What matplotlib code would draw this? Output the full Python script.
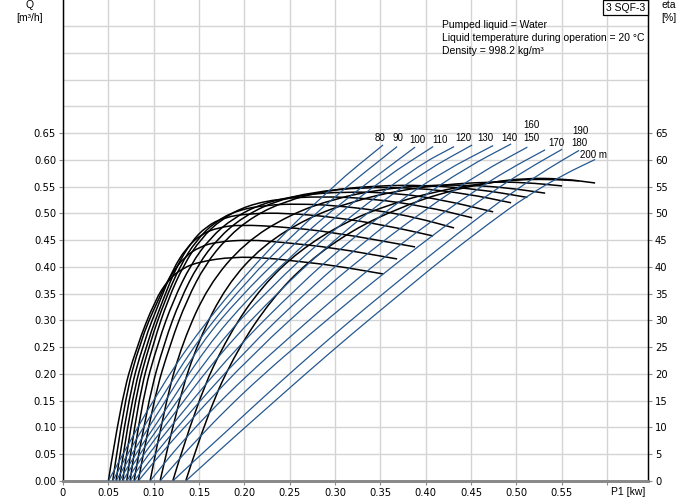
import matplotlib
matplotlib.use("Agg")
import matplotlib.pyplot as plt
from matplotlib.path import Path
from matplotlib.patches import PathPatch, Rectangle

plt.rcParams["font.family"] = ["Liberation Sans", "DejaVu Sans"]

# ---- data ----
heads = [80, 90, 100, 110, 120, 130, 140, 150, 160, 170, 180, 190, 200]

# Q lines (blue): P1 [kW] and Q [m3/h]
blue_p1 = [
    [0.0500, 0.0640, 0.1015, 0.1510, 0.2250, 0.2978, 0.3529],
    [0.0548, 0.0676, 0.1044, 0.1510, 0.2062, 0.2426, 0.2978, 0.3684],
    [0.0585, 0.0714, 0.1070, 0.1530, 0.1952, 0.2426, 0.2978, 0.3882],
    [0.0621, 0.0750, 0.1100, 0.1580, 0.2062, 0.2450, 0.3000, 0.3550, 0.4081],
    [0.0658, 0.0786, 0.1125, 0.1680, 0.2250, 0.3000, 0.3900, 0.4312],
    [0.0703, 0.0824, 0.1155, 0.1750, 0.2400, 0.2850, 0.3400, 0.4000, 0.4511],
    [0.0739, 0.0868, 0.1217, 0.1880, 0.2600, 0.3100, 0.3700, 0.4200, 0.4743],
    [0.0783, 0.0937, 0.1290, 0.1980, 0.2750, 0.3300, 0.3900, 0.4450, 0.4941],
    [0.0830, 0.0993, 0.1364, 0.2100, 0.2900, 0.3450, 0.4000, 0.4600, 0.5120],
    [0.0960, 0.1130, 0.1320, 0.1600, 0.2000, 0.2500, 0.3000, 0.3500, 0.4000, 0.4500, 0.4900, 0.5316],
    [0.1070, 0.1270, 0.1500, 0.1800, 0.2200, 0.2700, 0.3200, 0.3700, 0.4200, 0.4700, 0.5100, 0.5503],
    [0.1210, 0.1480, 0.1830, 0.2200, 0.2600, 0.3100, 0.3600, 0.4100, 0.4600, 0.5000, 0.5350, 0.5691],
    [0.1353, 0.1600, 0.1920, 0.2300, 0.2700, 0.3200, 0.3700, 0.4200, 0.4700, 0.5100, 0.5500, 0.5867],
]
blue_q = [
    [0, 0.044, 0.158, 0.285, 0.431, 0.552, 0.628],
    [0, 0.041, 0.144, 0.270, 0.380, 0.442, 0.530, 0.625],
    [0, 0.039, 0.133, 0.260, 0.344, 0.424, 0.509, 0.624],
    [0, 0.038, 0.124, 0.251, 0.345, 0.410, 0.494, 0.567, 0.625],
    [0, 0.036, 0.117, 0.250, 0.356, 0.473, 0.588, 0.625],
    [0, 0.035, 0.110, 0.243, 0.358, 0.429, 0.508, 0.580, 0.628],
    [0, 0.034, 0.108, 0.243, 0.365, 0.440, 0.523, 0.579, 0.627],
    [0, 0.034, 0.107, 0.239, 0.364, 0.444, 0.524, 0.586, 0.630],
    [0, 0.034, 0.106, 0.239, 0.362, 0.438, 0.508, 0.576, 0.624],
    [0, 0.036, 0.074, 0.126, 0.193, 0.269, 0.343, 0.413, 0.478, 0.538, 0.581, 0.619],
    [0, 0.039, 0.081, 0.134, 0.198, 0.271, 0.342, 0.410, 0.475, 0.537, 0.581, 0.620],
    [0, 0.043, 0.097, 0.155, 0.216, 0.290, 0.360, 0.429, 0.495, 0.545, 0.584, 0.618],
    [0, 0.038, 0.087, 0.144, 0.204, 0.277, 0.347, 0.417, 0.482, 0.531, 0.571, 0.601],
]

# eta curves (black): P1 [kW] and eta [%]
eta_p1 = [
    [0.0500, 0.0640, 0.0810, 0.1015, 0.1160, 0.1320, 0.1510, 0.1875, 0.2250, 0.2614, 0.2978, 0.3529],
    [0.0548, 0.0676, 0.0850, 0.1044, 0.1190, 0.1340, 0.1510, 0.1698, 0.2062, 0.2426, 0.2978, 0.3684],
    [0.0585, 0.0714, 0.0890, 0.1070, 0.1210, 0.1360, 0.1530, 0.1720, 0.1952, 0.2426, 0.2978, 0.3882],
    [0.0621, 0.0750, 0.0930, 0.1100, 0.1250, 0.1410, 0.1580, 0.1780, 0.2062, 0.2450, 0.3000, 0.3550, 0.4081],
    [0.0658, 0.0786, 0.0960, 0.1125, 0.1290, 0.1470, 0.1680, 0.1920, 0.2250, 0.2600, 0.3000, 0.3500, 0.3900, 0.4312],
    [0.0703, 0.0824, 0.1000, 0.1155, 0.1330, 0.1520, 0.1750, 0.2030, 0.2400, 0.2850, 0.3400, 0.4000, 0.4511],
    [0.0739, 0.0868, 0.1050, 0.1217, 0.1410, 0.1620, 0.1880, 0.2200, 0.2600, 0.3100, 0.3700, 0.4200, 0.4743],
    [0.0783, 0.0937, 0.1120, 0.1290, 0.1490, 0.1710, 0.1980, 0.2320, 0.2750, 0.3300, 0.3900, 0.4450, 0.4941],
    [0.0830, 0.0993, 0.1190, 0.1364, 0.1570, 0.1810, 0.2100, 0.2450, 0.2900, 0.3450, 0.4000, 0.4600, 0.5120],
    [0.0960, 0.1130, 0.1320, 0.1600, 0.2000, 0.2500, 0.3000, 0.3500, 0.4000, 0.4500, 0.4900, 0.5316],
    [0.1070, 0.1270, 0.1500, 0.1800, 0.2200, 0.2700, 0.3200, 0.3700, 0.4200, 0.4700, 0.5100, 0.5503],
    [0.1210, 0.1480, 0.1830, 0.2200, 0.2600, 0.3100, 0.3600, 0.4100, 0.4600, 0.5000, 0.5350, 0.5691],
    [0.1353, 0.1600, 0.1920, 0.2300, 0.2700, 0.3200, 0.3700, 0.4200, 0.4700, 0.5100, 0.5500, 0.5867],
]
eta_val = [
    [0, 15.0, 25.0, 33.8, 37.6, 39.8, 41.0, 41.9, 41.7, 41.0, 40.3, 38.7],
    [0, 15.0, 26.0, 33.8, 38.6, 41.9, 43.8, 44.7, 45.1, 44.6, 43.6, 41.5],
    [0, 15.0, 26.0, 33.8, 39.5, 43.6, 46.2, 47.4, 47.9, 47.5, 46.5, 43.75],
    [0, 15.0, 26.0, 33.8, 40.0, 44.6, 47.6, 49.3, 50.0, 50.1, 49.3, 47.8, 45.8],
    [0, 15.0, 26.0, 33.8, 40.2, 45.0, 48.5, 50.6, 51.6, 51.8, 51.5, 50.5, 49.2, 47.3],
    [0, 15.0, 26.0, 33.8, 40.4, 45.3, 49.0, 51.5, 52.8, 53.2, 52.8, 51.3, 49.2],
    [0, 15.0, 26.0, 33.8, 40.5, 45.4, 49.2, 51.9, 53.4, 54.1, 53.8, 52.5, 50.3],
    [0, 15.0, 26.0, 33.8, 40.5, 45.4, 49.3, 52.2, 54.0, 54.9, 54.8, 53.7, 52.0],
    [0, 15.0, 26.0, 33.8, 40.5, 45.5, 49.5, 52.3, 54.3, 55.2, 55.3, 54.5, 53.0],
    [0, 14.8, 26.0, 36.5, 44.5, 49.8, 52.8, 54.5, 55.3, 55.3, 54.8, 53.8],
    [0, 15.0, 26.5, 36.5, 44.0, 49.2, 52.3, 54.3, 55.4, 55.9, 55.8, 55.15],
    [0, 15.0, 27.5, 36.5, 43.0, 48.3, 51.7, 54.1, 55.6, 56.3, 56.4, 56.1],
    [0, 13.0, 24.5, 34.0, 41.0, 47.0, 51.0, 54.0, 55.8, 56.6, 56.5, 55.7],
]

x_ticks = [0, 0.05, 0.10, 0.15, 0.20, 0.25, 0.30, 0.35, 0.40, 0.45, 0.50, 0.55, 0.60]
x_labels = ["0", "0.05", "0.10", "0.15", "0.20", "0.25", "0.30", "0.35",
            "0.40", "0.45", "0.50", "0.55", ""]
q_ticks = [i * 0.05 for i in range(14)]
eta_ticks = list(range(0, 70, 5))

# head label positions (layout, data coords of the Q axis)
label_pos = [(0.344, 0.641), (0.363, 0.641), (0.382, 0.637), (0.407, 0.637),
             (0.432, 0.641), (0.457, 0.641), (0.483, 0.641), (0.508, 0.641),
             (0.508, 0.666), (0.535, 0.632), (0.560, 0.632), (0.561, 0.654),
             (0.570, 0.610)]

BLUE = "#25588f"
GRID = "#d4d4d4"
FS = 7.5
TICK_FONT = ["DejaVu Sans"]


def smooth(xs, ys):
    verts = [(xs[0], ys[0])]
    codes = [Path.MOVETO]
    for i in range(1, len(xs) - 1):
        verts += [(xs[i], ys[i]), ((xs[i] + xs[i + 1]) / 2, (ys[i] + ys[i + 1]) / 2)]
        codes += [Path.CURVE3, Path.CURVE3]
    verts.append((xs[-1], ys[-1]))
    codes.append(Path.LINETO)
    return Path(verts, codes)


fig = plt.figure(figsize=(6.91, 5.0), dpi=100)
ax2 = fig.add_axes([63 / 691, 19 / 500, 585 / 691, 481 / 500])
ax = ax2.twinx()
ax.yaxis.tick_left()
ax2.yaxis.tick_right()
ax.set_zorder(ax2.get_zorder() + 1)
ax.patch.set_visible(False)

ax.set_xlim(0, 0.645)
ax.set_ylim(0, 0.899)
ax2.set_ylim(0, 89.9)

# grid (on the lower axes so curves sit on top)
for xv in x_ticks:
    ax2.axvline(xv, color=GRID, lw=1.0, zorder=0)
for ev in range(5, 90, 5):
    ax2.axhline(ev, color=GRID, lw=1.0, zorder=0)

# eta curves
for xs, ys in zip(eta_p1, eta_val):
    ax2.add_patch(PathPatch(smooth(xs, ys), fill=False, edgecolor="black",
                            lw=1.1, zorder=2))

# Q lines
for xs, ys in zip(blue_p1, blue_q):
    ax.add_patch(PathPatch(smooth(xs, ys), fill=False, edgecolor=BLUE,
                           lw=0.9, zorder=3))

for h, (lx, ly) in zip(heads, label_pos):
    txt = "200 m" if h == 200 else str(h)
    ax.text(lx, ly, txt, fontsize=7, ha="left", va="center", color="black")

# spines / ticks
for a in (ax, ax2):
    a.spines["top"].set_visible(False)
    a.spines["left"].set_color("black")
    a.spines["right"].set_color("black")
    a.spines["bottom"].set_color("#8a8a8a")
    a.spines["bottom"].set_linewidth(2.0)
    a.spines["left"].set_linewidth(0.9)
    a.spines["right"].set_linewidth(0.9)

ax2.set_xticks(x_ticks)
ax2.set_xticklabels(x_labels, family=TICK_FONT)
ax.set_yticks(q_ticks)
ax.set_yticklabels(["%.2f" % v for v in q_ticks], family=TICK_FONT)
ax2.set_yticks(eta_ticks)
ax2.set_yticklabels([str(v) for v in eta_ticks], family=TICK_FONT)
ax.tick_params(axis="x", bottom=False, labelbottom=False)
for a in (ax, ax2):
    a.tick_params(labelsize=7.2, length=3, width=0.8, color="#8a8a8a", pad=2)

# axis titles and info
fig.text(30 / 691, 1 - 5 / 500, "Q", fontsize=FS, ha="center", va="center")
fig.text(30 / 691, 1 - 18 / 500, "[m\u00b3/h]", fontsize=FS, ha="center", va="center")
fig.text(669 / 691, 1 - 5 / 500, "eta", fontsize=FS, ha="center", va="center")
fig.text(669 / 691, 1 - 18 / 500, "[%]", fontsize=FS, ha="center", va="center")
fig.text(645 / 691, 1 - 492 / 500, "P1 [kw]", fontsize=FS, ha="right", va="center")

fig.patches.append(Rectangle((603 / 691, 1 - 15 / 500), 45 / 691, 15 / 500,
                             transform=fig.transFigure, facecolor="white",
                             edgecolor="black", lw=0.9, zorder=5))
fig.text(625.5 / 691, 1 - 8 / 500, "3 SQF-3", fontsize=FS, ha="center",
         va="center", zorder=6)

info = ["Pumped liquid = Water",
        "Liquid temperature during operation = 20 \u00b0C",
        "Density = 998.2 kg/m\u00b3"]
for i, line in enumerate(info):
    fig.text(442 / 691, 1 - (25 + 13 * i) / 500, line, fontsize=FS,
             ha="left", va="center")

fig.savefig("out.png", dpi=100, facecolor="white")
